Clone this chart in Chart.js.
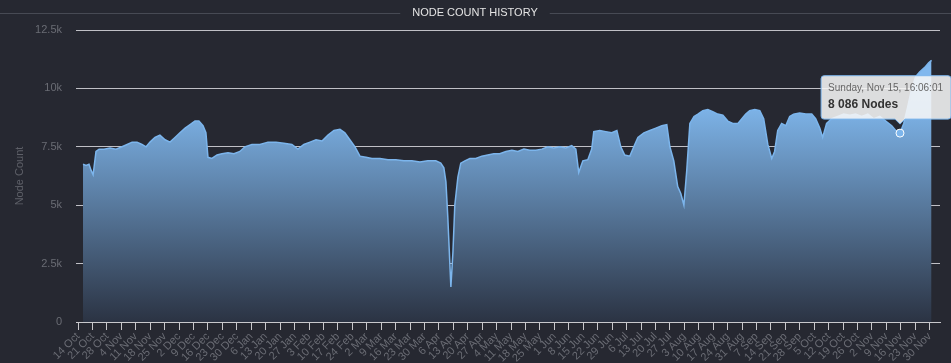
<!DOCTYPE html>
<html><head><meta charset="utf-8">
<script src="https://cdn.jsdelivr.net/npm/chart.js@4/dist/chart.umd.min.js"></script>
<style>html,body{margin:0;padding:0;background:#262831;overflow:hidden}#wrap{width:951px;height:363px;position:relative}</style>
</head><body><div id="wrap"><canvas id="c" width="951" height="363"></canvas></div>
<script>
const chartTitle = 'NODE COUNT HISTORY';
const yAxisTitle = 'Node Count';
const weekLabels = ['14 Oct','21 Oct','28 Oct','4 Nov','11 Nov','18 Nov','25 Nov','2 Dec','9 Dec','16 Dec','23 Dec','30 Dec',
  '6 Jan','13 Jan','20 Jan','27 Jan','3 Feb','10 Feb','17 Feb','24 Feb','2 Mar','9 Mar','16 Mar','23 Mar','30 Mar',
  '6 Apr','13 Apr','20 Apr','27 Apr','4 May','11 May','18 May','25 May','1 Jun','8 Jun','15 Jun','22 Jun','29 Jun',
  '6 Jul','13 Jul','20 Jul','27 Jul','3 Aug','10 Aug','17 Aug','24 Aug','31 Aug','7 Sep','14 Sep','21 Sep','28 Sep',
  '5 Oct','12 Oct','19 Oct','26 Oct','2 Nov','9 Nov','16 Nov','23 Nov','30 Nov'];
const yTickValues = [0, 2500, 5000, 7500, 10000, 12500];
const yTickLabels = ['0', '2.5k', '5k', '7.5k', '10k', '12.5k'];
// days since the first weekly tick (14 Oct)
const days = [2.4,3.9,5.3,6.3,7.3,8.7,10.2,12.6,15.5,18.4,21.3,23.8,26.2,28.6,31.0,33.0,34.9,37.3,39.7,42.2,44.6,47.0,49.4,51.9,54.3,56.7,58.6,60.6,62.0,63.0,64.9,67.4,69.8,72.7,75.6,78.5,80.9,84.3,88.2,92.1,96.0,99.8,103.7,106.6,109.5,112.5,115.4,118.3,121.2,124.1,127.0,129.4,131.8,134.3,136.7,139.6,142.5,146.4,150.3,154.1,158.0,161.9,165.8,169.6,173.5,175.9,177.4,178.4,179.3,180.3,180.8,181.8,182.7,184.2,185.6,187.6,190.0,192.9,195.8,198.7,201.6,204.5,207.5,210.4,213.3,216.2,219.1,222.0,224.9,227.8,230.7,233.6,236.5,239.4,241.4,242.8,244.8,247.2,249.1,250.1,253.0,255.9,258.8,261.3,263.2,265.1,267.6,269.5,271.5,274.4,277.3,280.2,283.1,285.5,287.0,288.9,290.8,292.3,293.8,295.2,296.7,298.7,300.6,303.0,305.4,307.8,310.2,312.7,315.1,317.5,320.0,321.9,323.8,325.7,328.2,330.6,332.5,334.5,336.4,337.8,339.3,341.2,343.2,345.1,347.0,349.9,352.9,355.8,357.7,359.7,361.1,363.0,365.5,368.4,371.3,374.2,377.1,380.0,383.0,385.9,388.8,391.7,394.6,396.5,398.6,400.4,402.3,404.3,406.2,408.1,410.6,412.5,413.9];
const nodes = [6750,6700,6750,6500,6300,7300,7400,7400,7450,7400,7500,7600,7700,7700,7600,7500,7700,7900,8000,7800,7700,7900,8100,8300,8450,8600,8600,8400,8100,7050,7000,7150,7200,7250,7200,7300,7500,7600,7600,7700,7700,7650,7600,7400,7600,7700,7800,7750,8000,8200,8250,8100,7800,7500,7100,7050,7000,7000,6950,6950,6900,6900,6850,6900,6900,6800,6600,6000,4500,2500,1500,3000,5000,6200,6800,6900,7000,7000,7100,7150,7200,7200,7300,7350,7300,7400,7350,7350,7400,7500,7450,7500,7450,7550,7400,6400,6900,6950,7400,8150,8200,8150,8100,8200,7500,7150,7100,7500,7900,8100,8200,8300,8400,8450,7500,6900,5800,5500,5000,6500,8500,8800,8900,9050,9100,9000,8900,8850,8600,8500,8500,8700,8900,9050,9100,9050,8700,7600,7000,7300,8200,8500,8400,8800,8900,8950,8900,8900,8700,8300,7900,8500,8700,8800,8900,8850,8900,8800,8900,8700,8800,8600,8400,8200,8086,8500,9200,10000,10500,10700,10900,11100,11200];
const tooltipTitle = 'Sunday, Nov 15, 16:06:01';
const highlightIndex = nodes.indexOf(8086);

const fontFamily = '"Liberation Sans", Arial, Helvetica, sans-serif';

const titlePlugin = {
  id: 'titleLine',
  afterDraw(chart) {
    const ctx = chart.ctx;
    ctx.save();
    ctx.font = '11px ' + fontFamily;
    const w = ctx.measureText(chartTitle).width;
    const cx = 475, y = 13;
    ctx.fillStyle = '#e4e4e4';
    ctx.textAlign = 'center';
    ctx.textBaseline = 'middle';
    ctx.fillText(chartTitle, cx, y);
    ctx.strokeStyle = '#474a54';
    ctx.lineWidth = 1;
    ctx.beginPath();
    ctx.moveTo(0, y + 0.5); ctx.lineTo(cx - w / 2 - 12, y + 0.5);
    ctx.moveTo(cx + w / 2 + 12, y + 0.5); ctx.lineTo(951, y + 0.5);
    ctx.stroke();
    ctx.restore();
  }
};

const chart = new Chart(document.getElementById('c'), {
  type: 'line',
  data: {
    datasets: [{
      data: days.map((d, i) => ({ x: d, y: nodes[i] })),
      borderColor: '#7cb5ec',
      borderWidth: 1.5,
      pointRadius: 0,
      pointHoverRadius: 4,
      pointHoverBorderWidth: 1,
      pointHoverBackgroundColor: '#7cb5ec',
      pointHoverBorderColor: '#ffffff',
      tension: 0,
      fill: 'origin',
      backgroundColor: (c) => {
        const ch = c.chart; const a = ch.chartArea;
        if (!a) return 'rgba(124,181,236,0.6)';
        const top = ch.scales.y.getPixelForValue(9500);
        const g = ch.ctx.createLinearGradient(0, top, 0, a.bottom);
        g.addColorStop(0, '#80b8ee');
        g.addColorStop(1, '#2b3343');
        return g;
      }
    }]
  },
  options: {
    responsive: false,
    animation: false,
    events: [],
    layout: { padding: { left: 0, right: 11, top: 30, bottom: 0 } },
    plugins: {
      legend: { display: false },
      title: { display: false },
      tooltip: {
        enabled: true,
        displayColors: false,
        xAlign: 'center',
        yAlign: 'bottom',
        backgroundColor: 'rgba(246,246,246,0.88)',
        borderColor: '#7cb5ec',
        borderWidth: 1,
        cornerRadius: 3,
        caretSize: 5,
        caretPadding: 9,
        padding: { top: 7, bottom: 7, left: 7, right: 8 },
        titleColor: '#666666',
        titleFont: { family: fontFamily, size: 10, weight: 'normal' },
        titleMarginBottom: 3,
        bodyColor: '#333333',
        bodyFont: { family: fontFamily, size: 12, weight: 'bold' },
        callbacks: {
          title: () => tooltipTitle,
          label: (item) => String(item.parsed.y).replace(/\B(?=(\d{3})+(?!\d))/g, ' ') + ' Nodes'
        }
      }
    },
    scales: {
      x: {
        type: 'linear',
        min: -1,
        max: 418,
        afterBuildTicks: (s) => { s.ticks = weekLabels.map((l, i) => ({ value: i * 7 })); },
        afterFit: (s) => { s.height = 41; },
        ticks: {
          autoSkip: false,
          maxRotation: 45,
          minRotation: 45,
          padding: 0,
          color: '#6a6c74',
          font: { family: fontFamily, size: 11 },
          callback: (v, i) => weekLabels[i]
        },
        grid: { display: true, drawOnChartArea: false, drawTicks: true, tickLength: 8, tickColor: '#c8c8cc' },
        border: { display: true, color: '#c8c8cc', width: 1 }
      },
      y: {
        min: 0,
        max: 12500,
        afterBuildTicks: (s) => { s.ticks = yTickValues.map(v => ({ value: v })); },
        afterFit: (s) => { s.width = 76; },
        ticks: {
          padding: 14,
          color: '#6a6c74',
          font: { family: fontFamily, size: 11 },
          callback: (v) => yTickLabels[yTickValues.indexOf(v)]
        },
        grid: { color: '#c0c0c6', lineWidth: 1, drawTicks: false },
        border: { display: false },
        title: {
          display: true,
          text: yAxisTitle,
          color: '#5e6068',
          font: { family: fontFamily, size: 11 },
          padding: { top: 13, bottom: 0 }
        }
      }
    }
  },
  plugins: [titlePlugin]
});

chart.setActiveElements([{ datasetIndex: 0, index: highlightIndex }]);
chart.tooltip.setActiveElements([{ datasetIndex: 0, index: highlightIndex }], { x: 0, y: 0 });
chart.update();
</script></body></html>
